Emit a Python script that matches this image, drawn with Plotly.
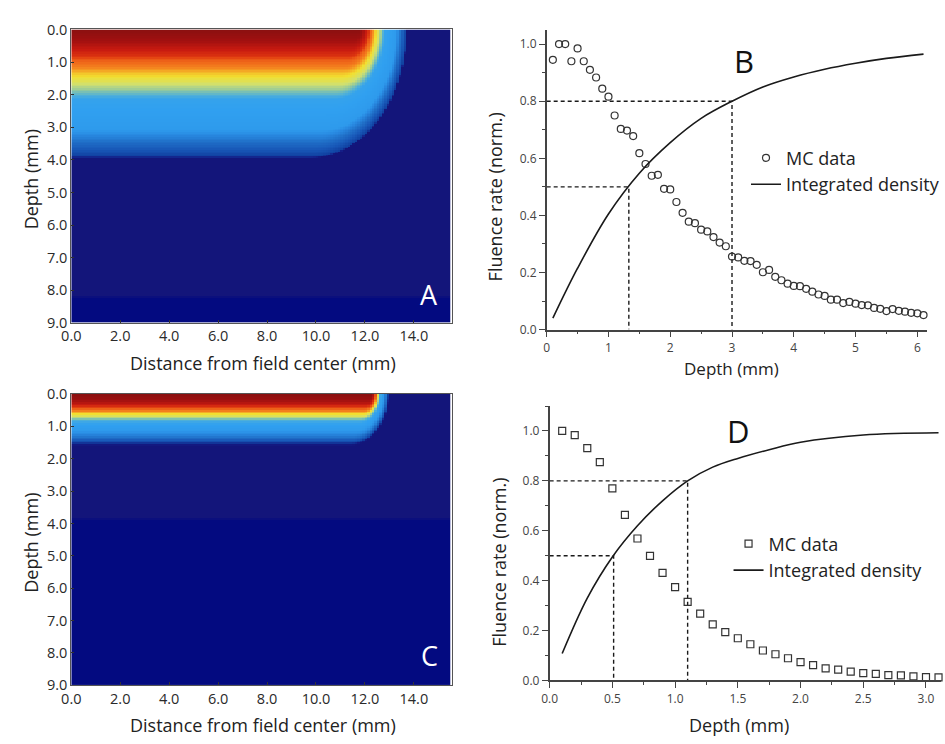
import numpy as np
import plotly.graph_objects as go

FONT = "Open Sans"
W, H = 945, 744

# ---------------- Panel A / C : fluence maps ----------------
map_x_ticks = [0, 2, 4, 6, 8, 10, 12, 14]
map_x_ticklabels = ["0.0", "2.0", "4.0", "6.0", "8.0", "10.0", "12.0", "14.0"]
map_y_ticks = [0, 1, 2, 3, 4, 5, 6, 7, 8, 9]
map_y_ticklabels = ["0.0", "1.0", "2.0", "3.0", "4.0", "5.0", "6.0", "7.0", "8.0", "9.0"]
map_x_max = 15.55
map_depth_max = 9.0

# colour level along the field centre, versus depth
a_depth_knots = [0.0, 0.27, 0.57, 0.82, 0.92, 1.12, 1.27, 1.45, 1.7, 1.87, 2.02, 2.15, 3.1, 3.25,
                 3.45, 3.68, 3.9, 3.95, 8.2, 8.25, 9.0]
a_level_knots = [1.0, 0.96, 0.91, 0.86, 0.82, 0.78, 0.73, 0.68, 0.62, 0.56, 0.5, 0.45, 0.42, 0.36,
                 0.30, 0.24, 0.18, 0.05, 0.05, 0.0, 0.0]
# rounded field corner: contour of depth D bends around x = corner_x - corner_b * D
a_corner_x = 11.75
a_corner_b = 0.5
a_floor_depth = 8.2

c_depth_knots = [0.0, 0.18, 0.33, 0.43, 0.53, 0.6, 0.68, 0.75, 0.82, 0.9, 1.13, 1.25, 1.38, 1.5,
                 1.56, 1.6, 3.85, 3.9, 9.0]
c_level_knots = [1.0, 0.96, 0.9, 0.84, 0.77, 0.7, 0.64, 0.57, 0.5, 0.45, 0.42, 0.36, 0.28, 0.2,
                 0.08, 0.05, 0.05, 0.0, 0.0]
c_corner_x = 12.24
c_corner_b = 0.53
c_floor_depth = 3.85

jet_scale = [
    [0.00, "#030a80"], [0.05, "#13157a"], [0.10, "#14208a"], [0.18, "#1040a0"],
    [0.24, "#1858b8"], [0.30, "#2070c8"], [0.36, "#2888e0"], [0.44, "#30a0f0"],
    [0.50, "#50b0d8"], [0.56, "#90c8a0"], [0.62, "#d0e070"], [0.68, "#f2e030"],
    [0.75, "#f59020"], [0.80, "#f06a1a"], [0.85, "#e03a10"], [0.90, "#c81a10"],
    [0.95, "#a01010"], [1.00, "#8a1010"],
]

# ---------------- Panel B ----------------
b_depth = [round(0.1 * i, 1) for i in range(1, 62)]
b_mc = [0.945, 1.0, 1.0, 0.94, 0.985, 0.94, 0.91, 0.883, 0.844, 0.816,
        0.75, 0.703, 0.697, 0.678, 0.618, 0.58, 0.539, 0.542, 0.493, 0.491,
        0.447, 0.409, 0.378, 0.373, 0.35, 0.344, 0.324, 0.305, 0.292, 0.256,
        0.253, 0.241, 0.24, 0.227, 0.201, 0.209, 0.185, 0.173, 0.161, 0.153,
        0.152, 0.143, 0.133, 0.123, 0.118, 0.105, 0.105, 0.093, 0.097, 0.091,
        0.086, 0.085, 0.076, 0.073, 0.065, 0.072, 0.066, 0.063, 0.059, 0.057, 0.051]
b_curve_x = [0.1, 0.5, 1.0, 1.5, 2.0, 2.5, 3.0, 3.5, 4.0, 4.5, 5.0, 5.5, 6.1]
b_curve_y = [0.04, 0.215, 0.405, 0.548, 0.655, 0.74, 0.80, 0.85, 0.885, 0.912, 0.933, 0.95, 0.965]
b_levels = [0.5, 0.8]
b_level_depths = [1.33, 3.0]

# ---------------- Panel D ----------------
d_depth = [round(0.1 * i, 1) for i in range(1, 32)]
d_mc = [1.0, 0.983, 0.931, 0.875, 0.77, 0.664, 0.569, 0.499, 0.431, 0.374,
        0.315, 0.268, 0.225, 0.194, 0.169, 0.145, 0.12, 0.105, 0.089, 0.073,
        0.061, 0.048, 0.043, 0.035, 0.029, 0.026, 0.021, 0.02, 0.016, 0.013, 0.012]
d_curve_x = [0.1, 0.3, 0.5, 0.7, 0.9, 1.1, 1.3, 1.5, 1.75, 2.0, 2.5, 3.1]
d_curve_y = [0.108, 0.33, 0.495, 0.62, 0.72, 0.80, 0.855, 0.89, 0.925, 0.955, 0.984, 0.993]
d_levels = [0.5, 0.8]
d_level_depths = [0.51, 1.1]


def fluence_map(depth_knots, level_knots, corner_x, corner_b, floor_depth):
    xs = np.arange(0.05, map_x_max, 0.1)
    ds = np.arange(0.025, map_depth_max, 0.05)
    X, D = np.meshgrid(xs, ds)
    u = X - corner_x
    q = 1 - corner_b ** 2
    d_round = (u * corner_b + np.sqrt(u ** 2 + q * D ** 2)) / q
    deff = np.where(u + corner_b * d_round > 0, d_round, D)
    deff = np.where(D < floor_depth, np.minimum(deff, floor_depth - 0.05), D)
    z = np.interp(deff, depth_knots, level_knots)
    return xs, ds, z


fig = go.Figure()

for (dk, lk, cx_, cb_, fl, xa, ya) in [
    (a_depth_knots, a_level_knots, a_corner_x, a_corner_b, a_floor_depth, "x", "y"),
    (c_depth_knots, c_level_knots, c_corner_x, c_corner_b, c_floor_depth, "x3", "y3"),
]:
    xs, ds, z = fluence_map(dk, lk, cx_, cb_, fl)
    fig.add_trace(go.Heatmap(x=xs, y=ds, z=z, colorscale=jet_scale, zmin=0, zmax=1,
                             showscale=False, xaxis=xa, yaxis=ya, hoverinfo="skip"))

line_col = "#1a1a1a"

for (mx, my, cx, cy, levels, ldepths, symbol, xa, ya, lg) in [
    (b_depth, b_mc, b_curve_x, b_curve_y, b_levels, b_level_depths, "circle-open", "x2", "y2", "legend"),
    (d_depth, d_mc, d_curve_x, d_curve_y, d_levels, d_level_depths, "square-open", "x4", "y4", "legend2"),
]:
    for lv, ld in zip(levels, ldepths):
        fig.add_trace(go.Scatter(x=[0, ld, ld], y=[lv, lv, 0], mode="lines",
                                 line=dict(color=line_col, width=1.4, dash="4px,3px"),
                                 showlegend=False, hoverinfo="skip", xaxis=xa, yaxis=ya))
    fig.add_trace(go.Scatter(x=mx, y=my, mode="markers", name="MC data",
                             marker=dict(symbol=symbol, size=7, color="#333333",
                                         line=dict(width=1.2, color="#333333")),
                             cliponaxis=False, xaxis=xa, yaxis=ya, legend=lg))
    fig.add_trace(go.Scatter(x=cx, y=cy, mode="lines", name="Integrated density",
                             line=dict(color=line_col, width=1.6, shape="spline", smoothing=1.0),
                             xaxis=xa, yaxis=ya, legend=lg))


def px_x(p):
    return p / W


def px_y(p):
    return 1 - p / H


map_axis = dict(showline=True, mirror=True, linecolor="#555555", linewidth=1,
                ticks="inside", ticklen=3, tickcolor="#333333", showgrid=False, zeroline=False,
                tickfont=dict(size=14.5, color="#2a2a2a"))
plot_axis = dict(showline=True, linecolor="#444444", linewidth=1.5, ticks="outside", ticklen=6,
                 tickcolor="#444444", tickwidth=1.2, showgrid=False, zeroline=False,
                 tickfont=dict(size=12, color="#444444"))

fig.update_layout(
    width=W, height=H, margin=dict(l=0, r=0, t=0, b=0),
    paper_bgcolor="white", plot_bgcolor="white",
    font=dict(family=FONT, color="#222222"),
    xaxis=dict(domain=[px_x(62), px_x(447)], range=[0, map_x_max], anchor="y",
               tickvals=map_x_ticks, ticktext=map_x_ticklabels, **map_axis),
    yaxis=dict(domain=[px_y(321), px_y(20)], range=[map_depth_max, 0], anchor="x",
               tickvals=map_y_ticks, ticktext=map_y_ticklabels, **map_axis),
    xaxis3=dict(domain=[px_x(62), px_x(447)], range=[0, map_x_max], anchor="y3",
                tickvals=map_x_ticks, ticktext=map_x_ticklabels, **map_axis),
    yaxis3=dict(domain=[px_y(693), px_y(394)], range=[map_depth_max, 0], anchor="x3",
                tickvals=map_y_ticks, ticktext=map_y_ticklabels, **map_axis),
    xaxis2=dict(domain=[px_x(543), px_x(927.4)], range=[0, 6.15], anchor="y2",
                tickvals=[0, 1, 2, 3, 4, 5, 6],
                minor=dict(dtick=0.5, ticks="outside", ticklen=3, tickcolor="#444444"), **plot_axis),
    yaxis2=dict(domain=[px_y(328), px_y(20.35)], range=[0, 1.05], anchor="x2",
                tickvals=[0, 0.2, 0.4, 0.6, 0.8, 1.0], tickformat=".1f",
                minor=dict(dtick=0.1, ticks="outside", ticklen=3, tickcolor="#444444"), **plot_axis),
    xaxis4=dict(domain=[px_x(546), px_x(942)], range=[0, 3.12], anchor="y4",
                tickvals=[0, 0.5, 1.0, 1.5, 2.0, 2.5, 3.0], tickformat=".1f",
                minor=dict(dtick=0.25, ticks="outside", ticklen=3, tickcolor="#444444"), **plot_axis),
    yaxis4=dict(domain=[px_y(688), px_y(406.4)], range=[0, 1.1], anchor="x4",
                tickvals=[0, 0.2, 0.4, 0.6, 0.8, 1.0], tickformat=".1f",
                minor=dict(dtick=0.1, ticks="outside", ticklen=3, tickcolor="#444444"), **plot_axis),
    legend=dict(x=px_x(745), y=px_y(133), xanchor="left", yanchor="top",
                font=dict(size=18, color="#222222"), bgcolor="rgba(0,0,0,0)", tracegroupgap=0),
    legend2=dict(x=px_x(727), y=px_y(529), xanchor="left", yanchor="top",
                 font=dict(size=18, color="#222222"), bgcolor="rgba(0,0,0,0)", tracegroupgap=0),
)

annots = [
    ("Distance from field center (mm)", 256, 362, 0, 18, "#222222"),
    ("Depth (mm)", 21, 174, -90, 18, "#222222"),
    ("Distance from field center (mm)", 256, 734, 0, 18, "#222222"),
    ("Depth (mm)", 21, 547, -90, 18, "#222222"),
    ("Depth (mm)", 730, 368, 0, 17, "#222222"),
    ("Fluence rate (norm.)", 491, 192, -90, 18, "#222222"),
    ("Depth (mm)", 738, 734, 0, 18, "#222222"),
    ("Fluence rate (norm.)", 494, 567, -90, 18, "#222222"),
    ("A", 424, 292, 0, 27, "white"),
    ("C", 424, 662, 0, 27, "white"),
    ("B", 743, 52, 0, 31, "#111111"),
    ("D", 737, 432, 0, 31, "#111111"),
]
for text, x, y, ang, size, col in annots:
    fig.add_annotation(text=text, x=px_x(x), y=px_y(y), xref="paper", yref="paper",
                       xanchor="center", yanchor="middle", textangle=ang, showarrow=False,
                       font=dict(size=size, color=col, family=FONT))

fig.write_html("out.html")
